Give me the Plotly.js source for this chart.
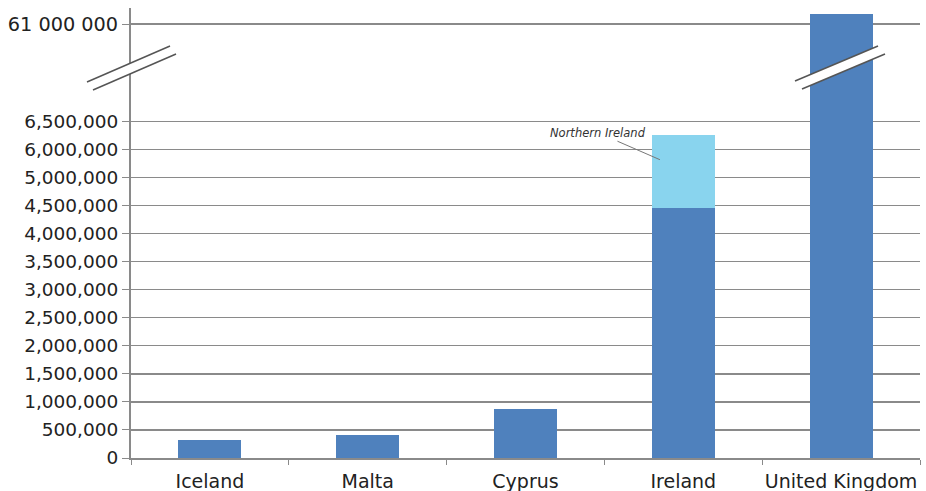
<!DOCTYPE html>
<html>
<head>
<meta charset="utf-8">
<script src="https://cdn.plot.ly/plotly-3.0.1.min.js"></script>
<style>
  html, body { margin: 0; padding: 0; background: #fff; }
  #chart { width: 926px; height: 491px; }
</style>
</head>
<body>
<div id="chart"></div>
<script>
// Population by country (Ireland split into the Republic and Northern Ireland)
const countries = ['Iceland', 'Malta', 'Cyprus', 'Ireland', 'United Kingdom'];
const population = [321000, 415000, 873000, 4456000, 61400000];
const northernIrelandCountry = ['Ireland'];
const northernIreland = [1294000];

// Lower axis ticks (as printed on the chart)
const lowerTickVals = [0, 500000, 1000000, 1500000, 2000000, 2500000, 3000000,
                       3500000, 4000000, 4500000, 5000000, 5500000, 6000000];
const lowerTickText = ['0', '500,000', '1,000,000', '1,500,000', '2,000,000', '2,500,000',
                       '3,000,000', '3,500,000', '4,000,000', '4,500,000', '5,000,000',
                       '6,000,000', '6,500,000'];
// Upper axis tick (above the break)
const upperTickVals = [61000000];
const upperTickText = ['61 000 000'];

const dark = '#4f81bd';
const light = '#89d4ee';
const gridCol = '#8a8a8a';
const axisCol = '#8a8a8a';
const family = 'DejaVu Sans, sans-serif';
const yFont = { family: family, size: 18.5, color: '#222' };
const xFont = { family: family, size: 19, color: '#222' };

// geometry of the plotting area (pixels)
const W = 926, H = 491;
const M = { l: 131, r: 6, t: 8, b: 33 };
const pw = W - M.l - M.r, ph = H - M.t - M.b;
const px = x => (x - M.l) / pw;
const py = y => (H - M.b - y) / ph;
const split = py(70);

const traces = [
  { type: 'bar', x: countries, y: population, marker: { color: dark },
    width: 0.4, xaxis: 'x', yaxis: 'y', hoverinfo: 'x+y', showlegend: false },
  { type: 'bar', x: northernIrelandCountry, y: northernIreland, marker: { color: light },
    width: 0.4, xaxis: 'x', yaxis: 'y', name: 'Northern Ireland', showlegend: false },
  { type: 'bar', x: countries, y: population, marker: { color: dark },
    width: 0.4, xaxis: 'x', yaxis: 'y2', hoverinfo: 'x+y', showlegend: false }
];

// break marker: white band edged by two slanted lines
function breakMark(x0, y0, x1, y1, dx, dy) {
  return [
    { type: 'path', xref: 'paper', yref: 'paper', layer: 'above',
      path: `M ${px(x0)} ${py(y0)} L ${px(x1)} ${py(y1)} L ${px(x1 + dx)} ${py(y1 + dy)} L ${px(x0 + dx)} ${py(y0 + dy)} Z`,
      fillcolor: '#ffffff', line: { width: 0 } },
    { type: 'line', xref: 'paper', yref: 'paper', layer: 'above',
      x0: px(x0), y0: py(y0), x1: px(x1), y1: py(y1), line: { color: '#555', width: 1.5 } },
    { type: 'line', xref: 'paper', yref: 'paper', layer: 'above',
      x0: px(x0 + dx), y0: py(y0 + dy), x1: px(x1 + dx), y1: py(y1 + dy), line: { color: '#555', width: 1.5 } }
  ];
}

const layout = {
  width: W, height: H,
  margin: M,
  paper_bgcolor: '#fff', plot_bgcolor: '#fff',
  barmode: 'stack',
  bargap: 0.6,
  font: yFont,
  xaxis: {
    type: 'category', range: [-0.5, 4.5], showgrid: false,
    showline: true, linecolor: axisCol, linewidth: 1.5,
    ticks: 'outside', tickson: 'boundaries', ticklen: 5, tickcolor: axisCol,
    tickangle: 0, ticklabelstandoff: 6,
    tickfont: xFont, anchor: 'y', fixedrange: true
  },
  yaxis: {
    domain: [0, split], range: [0, 6916000],
    tickvals: lowerTickVals, ticktext: lowerTickText,
    showgrid: true, gridcolor: gridCol, gridwidth: 1.3,
    showline: true, linecolor: axisCol, linewidth: 2,
    ticks: 'outside', ticklen: 7, tickcolor: axisCol,
    tickfont: yFont, zeroline: false, fixedrange: true
  },
  yaxis2: {
    domain: [split, 1], range: [59160000, 61640000],
    tickvals: upperTickVals, ticktext: upperTickText,
    showgrid: true, gridcolor: gridCol, gridwidth: 1.3,
    showline: true, linecolor: axisCol, linewidth: 2,
    ticks: 'outside', ticklen: 7, tickcolor: axisCol,
    tickfont: { family: family, size: 19.3, color: '#222' },
    zeroline: false, anchor: 'x', fixedrange: true
  },
  shapes: [
    ...breakMark(87, 82, 170, 46, 6, 8),
    ...breakMark(795, 81, 878, 46, 7, 8)
  ],
  annotations: [{
    x: 2.852, y: 5317000, xref: 'x', yref: 'y',
    text: '<i>Northern Ireland</i>',
    font: { family: family, size: 11.5, color: '#333' },
    showarrow: true, arrowhead: 0, arrowwidth: 1, arrowcolor: '#777',
    ax: -62, ay: -27
  }]
};

Plotly.newPlot('chart', traces, layout, { displayModeBar: false, staticPlot: true });
</script>
</body>
</html>
